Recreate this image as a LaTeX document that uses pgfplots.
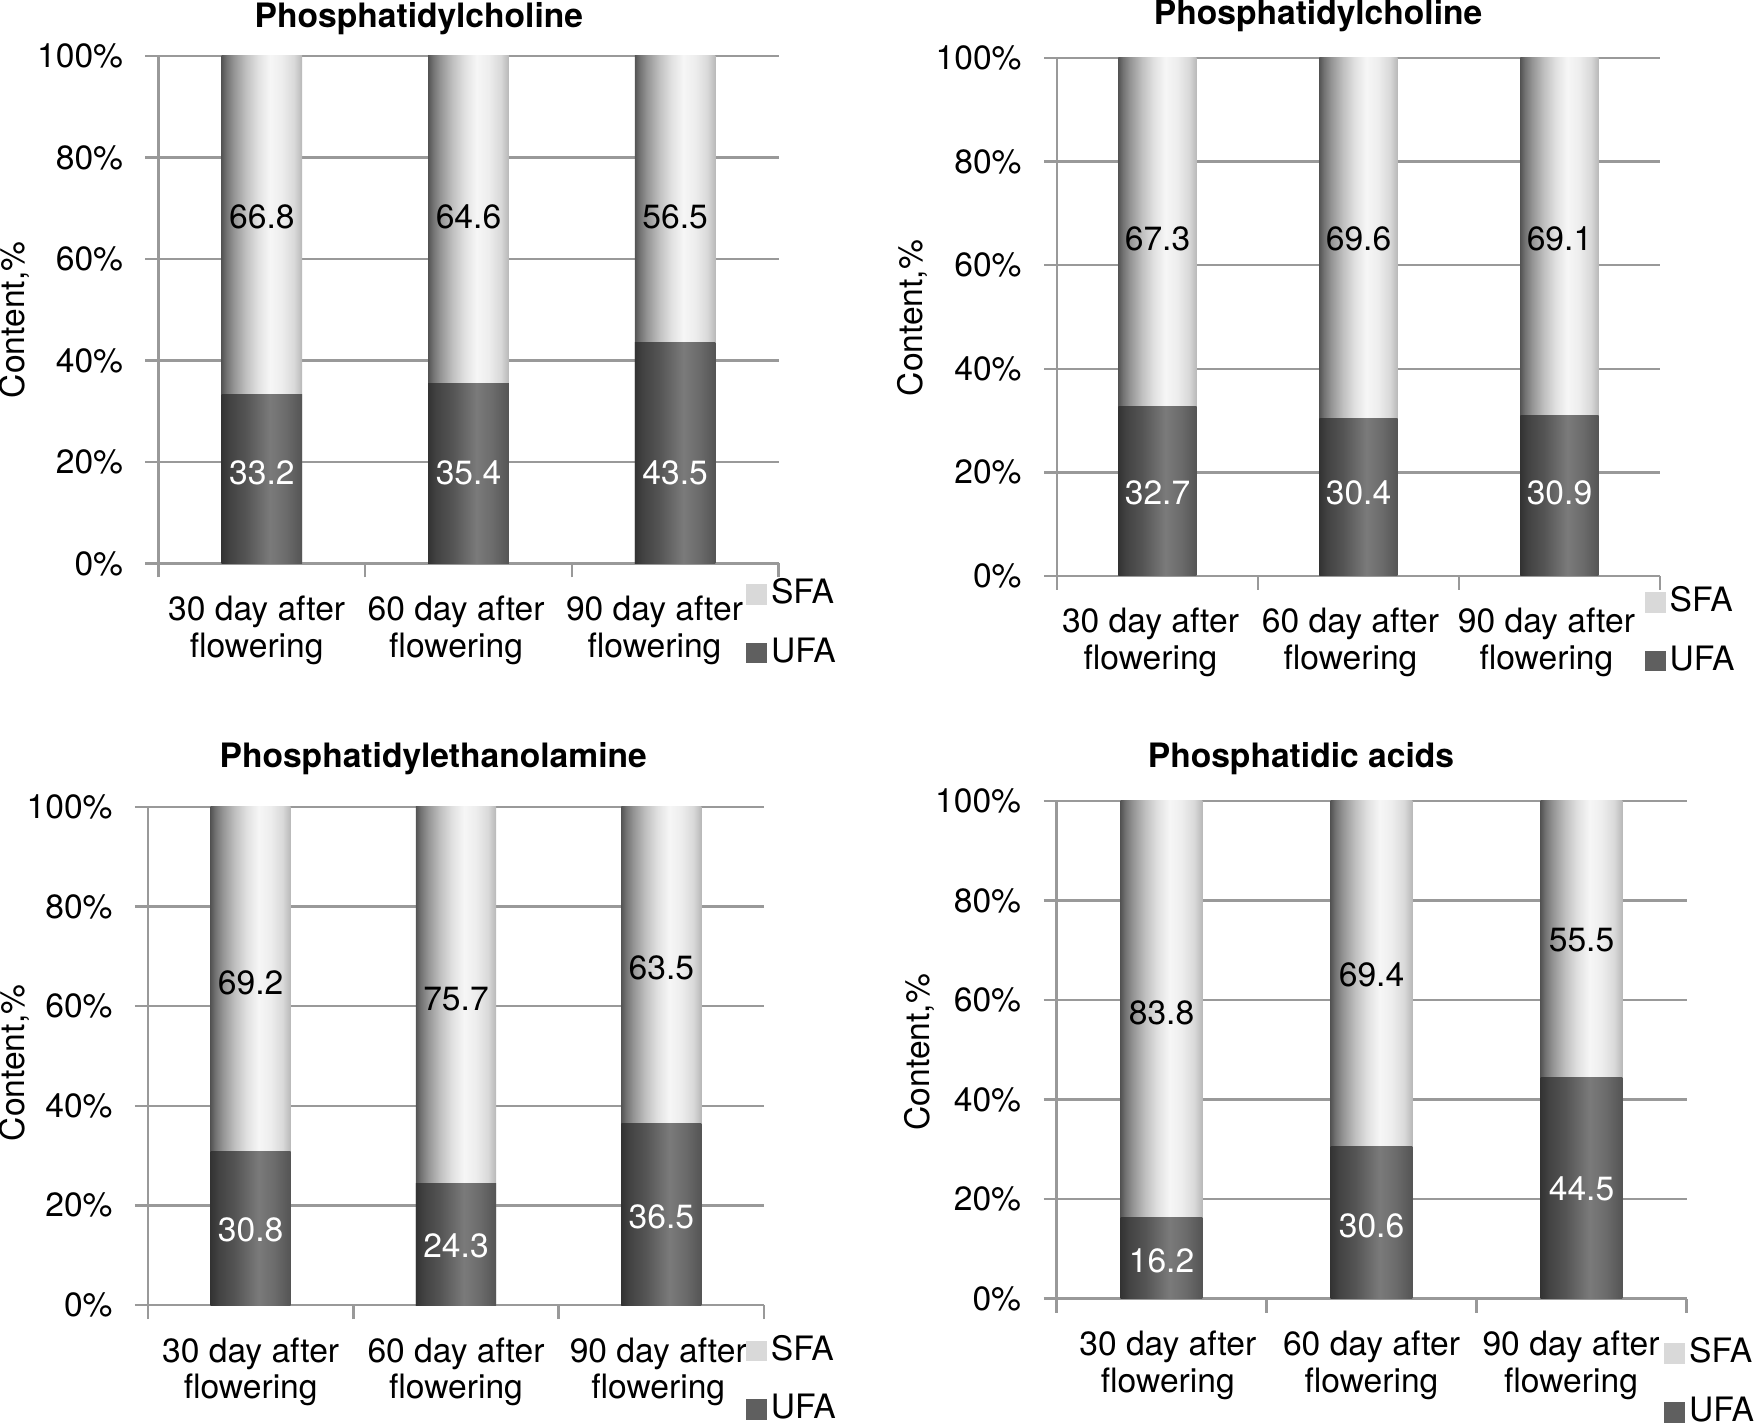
\documentclass[border=0pt]{standalone}
\usepackage{fontspec}
\setmainfont{TeX Gyre Heros}
\usepackage{pgfplots}
\usepackage{pgfplotstable}
\pgfplotsset{compat=1.18}
\newcommand\ff{\fontsize{8.4pt}{9.2pt}\selectfont}
\definecolor{gridgray}{HTML}{999999}
\definecolor{sfaleg}{HTML}{D9D9D9}
\definecolor{ufaleg}{HTML}{5F5F5F}
\definecolor{s0}{gray}{0.33}\definecolor{s1}{gray}{0.45}\definecolor{s2}{gray}{0.58}
\definecolor{s3}{gray}{0.75}\definecolor{s4}{gray}{0.88}\definecolor{s5}{gray}{0.965}
\definecolor{s6}{gray}{0.93}\definecolor{s7}{gray}{0.85}\definecolor{s8}{gray}{0.72}
\definecolor{u0}{gray}{0.20}\definecolor{u1}{gray}{0.26}\definecolor{u2}{gray}{0.33}
\definecolor{u3}{gray}{0.48}\definecolor{u4}{gray}{0.42}\definecolor{u5}{gray}{0.33}
\pgfdeclarehorizontalshading{sfashade}{100bp}{color(0bp)=(s0); color(25bp)=(s0); color(28bp)=(s1); color(32.5bp)=(s2); color(40bp)=(s3); color(47.5bp)=(s4); color(55bp)=(s5); color(62.5bp)=(s6); color(70bp)=(s7); color(75bp)=(s8); color(100bp)=(s8)}
\pgfdeclarehorizontalshading{ufashade}{100bp}{color(0bp)=(u0); color(25bp)=(u0); color(30bp)=(u1); color(40bp)=(u2); color(55bp)=(u3); color(65bp)=(u4); color(75bp)=(u5); color(100bp)=(u5)}

% UFA, SFA: values; ys, yu: where the value labels sit (as in the original)
\pgfplotstableread{
x UFA SFA ys yu
0 33.2 66.8 68.4 17.8
1 35.4 64.6 68.4 17.8
2 43.5 56.5 68.4 17.8
}\dataA
\pgfplotstableread{
x UFA SFA ys yu
0 32.7 67.3 65.1 16.0
1 30.4 69.6 65.1 16.0
2 30.9 69.1 65.1 16.0
}\dataB
\pgfplotstableread{
x UFA SFA ys yu
0 30.8 69.2 64.6 15.0
1 24.3 75.7 61.5 11.8
2 36.5 63.5 67.7 17.7
}\dataC
\pgfplotstableread{
x UFA SFA ys yu
0 16.2 83.8 57.4 7.5
1 30.6 69.4 65.0 14.7
2 44.5 55.5 72.1 22.1
}\dataD

\newcommand\barpair[2]{%
  \pgfplotstablegetelem{#2}{UFA}\of#1\edef\ufa{\pgfplotsretval}%
  \pgfplotstablegetelem{#2}{SFA}\of#1\edef\sfa{\pgfplotsretval}%
  \pgfmathsetmacro\tot{\ufa+\sfa}%
  \edef\temp{\noexpand\addplot[sfabar] coordinates {(#2,\tot)};\noexpand\addplot[ufabar] coordinates {(#2,\ufa)};}%
  \temp}
\newcommand\panelplots[1]{%
  \addlegendimage{legend image code/.code={\fill[sfaleg] (0pt,-2.4pt) rectangle (4.9pt,2.4pt);}}
  \addlegendentry{SFA}
  \addlegendimage{legend image code/.code={\fill[ufaleg] (0pt,-2.4pt) rectangle (4.9pt,2.4pt);}}
  \addlegendentry{UFA}
  \barpair#1{0}\barpair#1{1}\barpair#1{2}
  \addplot[lbl, every node near coord/.append style={text=black}] table[x=x, y=ys, meta=SFA] {#1};
  \addplot[lbl, every node near coord/.append style={text=white}] table[x=x, y=yu, meta=UFA] {#1};
}

\pgfplotsset{
  sfabar/.style={ybar, bar width=0.39, bar shift=0pt, draw=none, shade, shading=sfashade, forget plot},
  ufabar/.style={ybar, bar width=0.39, bar shift=0pt, draw=none, shade, shading=ufashade, forget plot},
  lbl/.style={only marks, mark=*, mark size=0pt, mark options={draw=none, fill=none},
    nodes near coords, point meta=explicit symbolic,
    every node near coord/.style={anchor=center, font=\ff, inner sep=0pt}, forget plot},
  panel/.style={
    scale only axis, anchor=south west,
    xmin=-0.5, xmax=2.5, ymin=0, ymax=100,
    axis lines*=left,
    axis line style={draw=gridgray, line width=0.6pt},
    ytick={0,20,...,100}, yticklabels={0\%,20\%,40\%,60\%,80\%,100\%},
    xtick={0,1,2},
    xticklabels={{30 day after\\flowering},{60 day after\\flowering},{90 day after\\flowering}},
    minor xtick={-0.5,0.5,1.5,2.5},
    tick align=outside,
    major tick length=3.25pt, minor tick length=3.5pt,
    tick style={draw=gridgray, line width=0.6pt},
    major x tick style={draw=none},
    ymajorgrids, grid style={draw=gridgray, line width=0.6pt},
    xticklabel style={align=center, anchor=north, inner sep=0pt, yshift=-4.65pt, font=\ff},
    yticklabel style={anchor=east, inner sep=0pt, xshift=-5.4pt, font=\ff},
    /pgf/number format/assume math mode=true,
    title style={font=\bfseries\ff, anchor=base, inner sep=0pt, yshift=-6pt},
    ylabel style={anchor=center, inner sep=0pt, font=\ff},
    ylabel={Content,\%},
    legend style={draw=none, fill=none, inner sep=0pt, column sep=1pt, row sep=7pt, font=\ff, nodes={inner sep=0pt}, anchor=west},
    legend cell align=left,
  }
}

\begin{document}
\begin{tikzpicture}
\useasboundingbox (0,0) rectangle (438.5pt,355.75pt);
% top left
\begin{axis}[panel, width=155pt, height=126.875pt, at={(39.625pt,214.875pt)},
  xtick={-0.025,0.94,1.9},
  title={Phosphatidylcholine}, title style={at={(axis description cs:0.420,1.057)}},
  ylabel style={at={(axis description cs:-0.233,0.48)}},
  legend style={at={(axis description cs:0.946,-0.118)}}]
\panelplots\dataA
\end{axis}
% top right
\begin{axis}[panel, width=150.75pt, height=129.5pt, at={(264.25pt,211.75pt)},
  xtick={-0.035,0.96,1.935},
  title={Phosphatidylcholine}, title style={at={(axis description cs:0.433,1.064)}},
  ylabel style={at={(axis description cs:-0.239,0.498)}},
  legend style={at={(axis description cs:0.973,-0.107)}}]
\panelplots\dataB
\end{axis}
% bottom left
\begin{axis}[panel, width=154pt, height=124.5pt, at={(37pt,29.5pt)},
  xtick={0,1,1.985},
  title={Phosphatidylethanolamine}, title style={at={(axis description cs:0.463,1.080)}},
  ylabel style={at={(axis description cs:-0.2175,0.486)}},
  legend style={at={(axis description cs:0.969,-0.151)}}]
\panelplots\dataC
\end{axis}
% bottom right
\begin{axis}[panel, width=157.5pt, height=124.375pt, at={(264.125pt,31.125pt)},
  xtick={0.03,1,1.95},
  title={Phosphatidic acids}, title style={at={(axis description cs:0.388,1.068)}},
  ylabel style={at={(axis description cs:-0.218,0.495)}},
  legend style={at={(axis description cs:0.963,-0.169)}}]
\panelplots\dataD
\end{axis}
\end{tikzpicture}
\end{document}
